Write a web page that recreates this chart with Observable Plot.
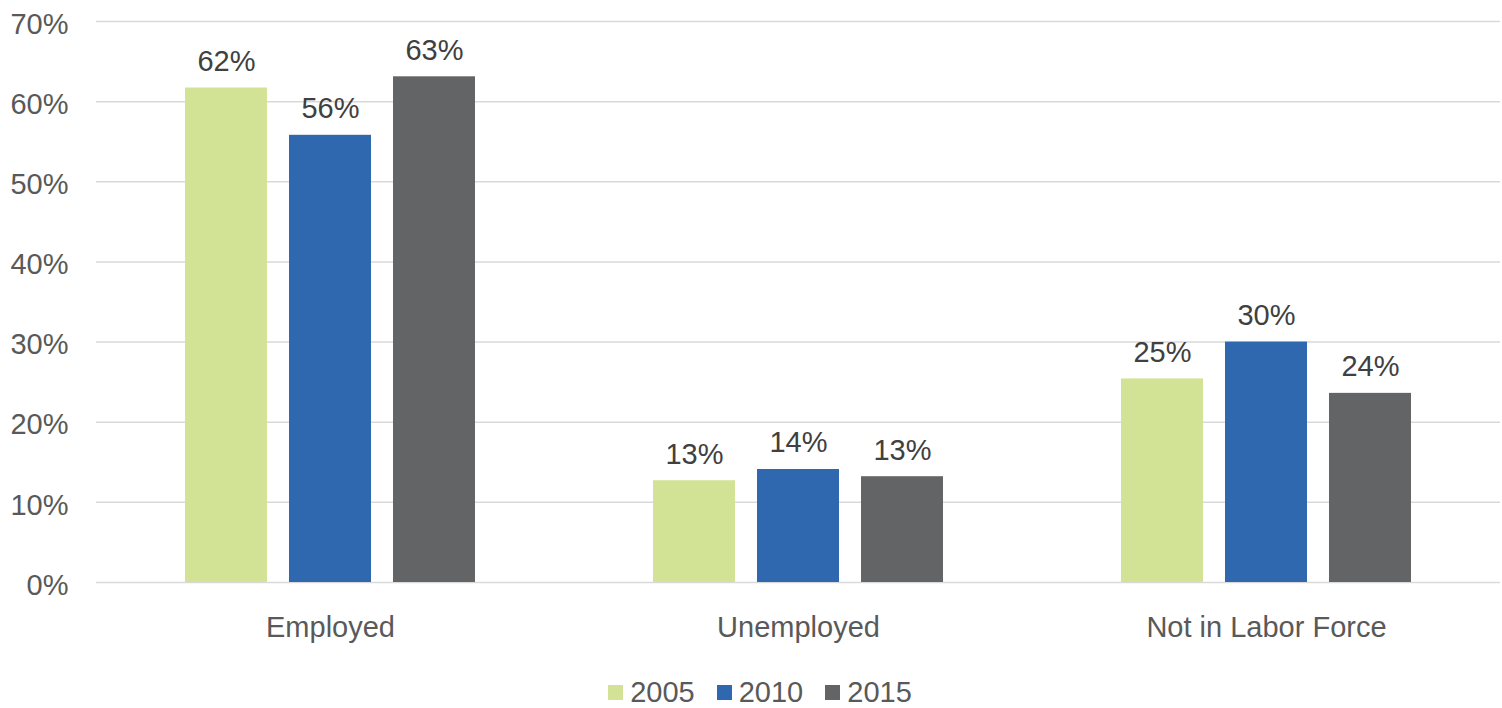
<!DOCTYPE html>
<html>
<head>
<meta charset="utf-8">
<script src="https://cdn.jsdelivr.net/npm/d3@7"></script>
<script src="https://cdn.jsdelivr.net/npm/@observablehq/plot@0.6"></script>
<style>
  body { margin: 0; background: #fff; font-family: "Liberation Sans", Arial, sans-serif; }
  #chart svg { display: block; }
  #legend { display: flex; justify-content: center; align-items: center; margin-top: 16px; padding-left: 18px; height: 32px; line-height: 32px; font-size: 29px; color: #595959; }
  .item { display: flex; align-items: center; margin: 0 11px; }
  .sw { width: 15px; height: 15px; margin-right: 7px; display: inline-block; }
</style>
</head>
<body>
<div id="chart"></div>
<div id="legend"></div>
<script>
const categories = ["Employed", "Unemployed", "Not in Labor Force"];
const years = ["2005", "2010", "2015"];
const values2005 = [61.7, 12.7, 25.4];
const values2010 = [55.8, 14.1, 30.0];
const values2015 = [63.1, 13.2, 23.6];
const yTicks = [0, 10, 20, 30, 40, 50, 60, 70];
const colors = ["#d2e396", "#3068b0", "#636466"];

const series = [values2005, values2010, values2015];
const data = [];
categories.forEach((c, i) => {
  years.forEach((y, j) => data.push({category: c, year: y, value: series[j][i]}));
});

const chart = Plot.plot({
  width: 1502,
  height: 660,
  marginLeft: 95,
  marginRight: 2,
  marginTop: 21,
  marginBottom: 78,
  style: {fontFamily: '"Liberation Sans", Arial, sans-serif', fontSize: "29px", color: "#595959", background: "#fff"},
  fx: {domain: categories, padding: 0, axis: "bottom", label: null, tickSize: 0, tickPadding: 34},
  x: {domain: years, paddingInner: 0.21, paddingOuter: 0.845, axis: null},
  y: {domain: [0, 70], axis: null},
  color: {domain: years, range: colors},
  marks: [
    Plot.gridY(yTicks, {stroke: "#d9d9d9", strokeOpacity: 1, strokeWidth: 1.5}),
    Plot.axisY(yTicks, {tickSize: 0, tickPadding: 28, tickFormat: d => d + "%", label: null, fill: "#595959", dy: 3}),
    Plot.barY(data, {fx: "category", x: "year", y: "value", fill: "year"}),
    Plot.text(data, {fx: "category", x: "year", y: "value", text: d => Math.round(d.value) + "%", lineAnchor: "bottom", dy: -17, fill: "#404040", fontSize: 29})
  ]
});
document.getElementById("chart").appendChild(chart);

const legend = document.getElementById("legend");
years.forEach((y, i) => {
  const item = document.createElement("div");
  item.className = "item";
  const sw = document.createElement("span");
  sw.className = "sw";
  sw.style.background = colors[i];
  const t = document.createElement("span");
  t.textContent = y;
  item.appendChild(sw);
  item.appendChild(t);
  legend.appendChild(item);
});
</script>
</body>
</html>
